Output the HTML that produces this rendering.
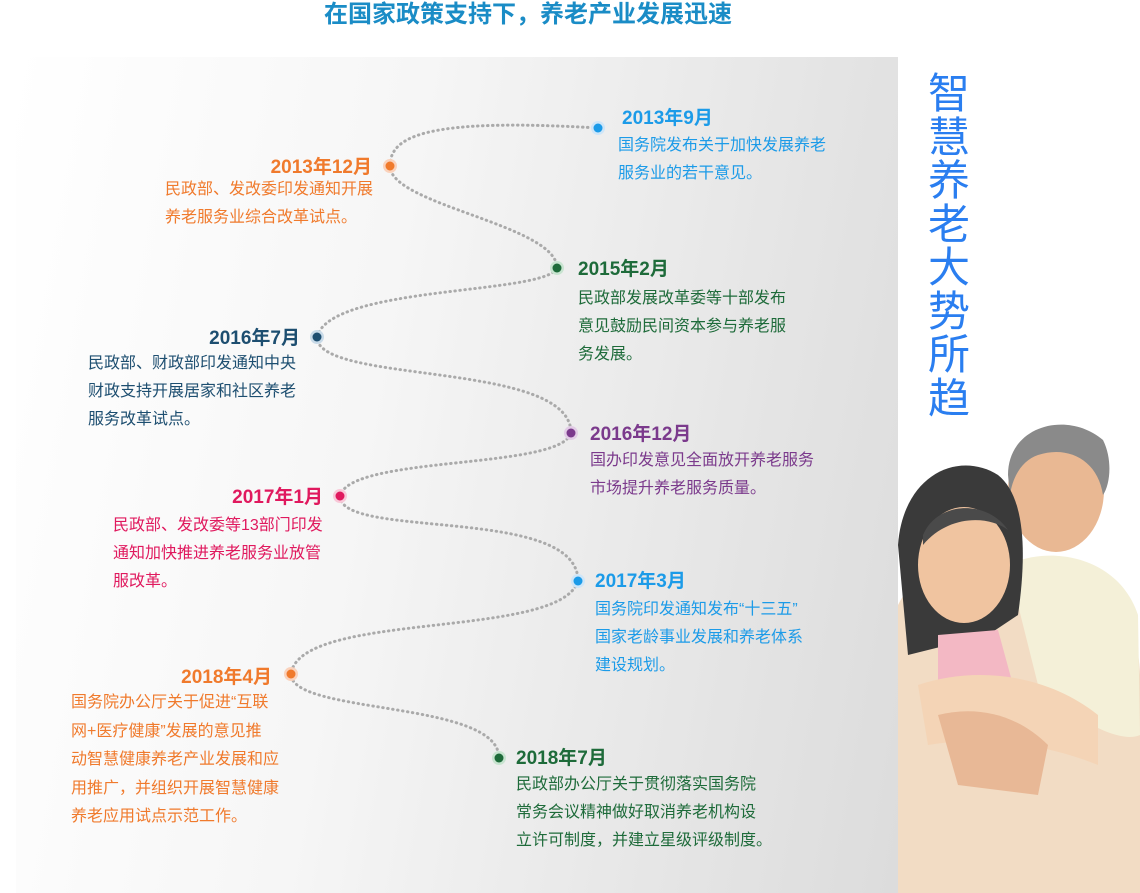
<!DOCTYPE html>
<html><head><meta charset="utf-8">
<style>
body{margin:0;width:1140px;height:893px;overflow:hidden;background:#fff;position:relative;font-family:"Liberation Sans","Noto Sans CJK SC",sans-serif;}
.a{position:absolute;white-space:nowrap}
.d{font-size:19px;font-weight:bold;line-height:22px}
.b{font-size:16px;line-height:28px}
.r{text-align:right}
</style></head><body>
<div class="a" style="left:0;width:1056px;text-align:center;top:0px;font-size:24px;line-height:30px;font-weight:bold;color:#1a8cc6;">在国家政策支持下，养老产业发展迅速</div>
<div class="a" style="left:16px;top:57px;width:882px;height:836px;background:linear-gradient(100deg,#ffffff 0%,#f6f6f6 40%,#e4e4e4 80%,#dcdcdc 100%);"></div>
<svg class="a" style="left:0;top:0" width="900" height="893">
<path d="M598,128 C430,118 390,135 390,166 C390,205 557,225 557,268 C545,295 330,285 317,337 C317,385 571,360 571,433 C560,470 350,455 340,496 C340,540 578,505 578,581 C560,640 300,610 291,674 C291,715 499,700 499,758" fill="none" stroke="#aaa" stroke-width="3" stroke-dasharray="0.5 4.5" stroke-linecap="round"/>
<g>
<circle cx="598" cy="128" r="7" fill="#cfe6f8"/><circle cx="598" cy="128" r="4.5" fill="#1c9be8"/>
<circle cx="390" cy="166" r="7" fill="#fad2bc"/><circle cx="390" cy="166" r="4.5" fill="#f07a2c"/>
<circle cx="557" cy="268" r="7" fill="#c8e4d0"/><circle cx="557" cy="268" r="4.5" fill="#1e6b3a"/>
<circle cx="317" cy="337" r="7" fill="#c8dae8"/><circle cx="317" cy="337" r="4.5" fill="#1d4e70"/>
<circle cx="571" cy="433" r="7" fill="#e2cce6"/><circle cx="571" cy="433" r="4.5" fill="#7b3a8c"/>
<circle cx="340" cy="496" r="7" fill="#f8c8d8"/><circle cx="340" cy="496" r="4.5" fill="#e0195e"/>
<circle cx="578" cy="581" r="7" fill="#cfe6f8"/><circle cx="578" cy="581" r="4.5" fill="#1c9be8"/>
<circle cx="291" cy="674" r="7" fill="#fad2bc"/><circle cx="291" cy="674" r="4.5" fill="#f07a2c"/>
<circle cx="499" cy="758" r="7" fill="#c8e4d0"/><circle cx="499" cy="758" r="4.5" fill="#1e6b3a"/>
</g></svg>

<div class="a d" style="left:622px;top:108px;color:#1c9be8">2013年9月</div>
<div class="a b" style="left:618px;top:132px;color:#1c9be8">国务院发布关于加快发展养老<br>服务业的若干意见。</div>

<div class="a d r" style="right:768px;top:157px;color:#f07a2c">2013年12月</div>
<div class="a b" style="left:165px;top:176px;color:#f07a2c">民政部、发改委印发通知开展<br>养老服务业综合改革试点。</div>

<div class="a d" style="left:578px;top:259px;color:#1e6b3a">2015年2月</div>
<div class="a b" style="left:578px;top:285px;color:#1e6b3a">民政部发展改革委等十部发布<br>意见鼓励民间资本参与养老服<br>务发展。</div>

<div class="a d r" style="right:840px;top:328px;color:#1d4e70">2016年7月</div>
<div class="a b" style="left:88px;top:350px;color:#1d4e70">民政部、财政部印发通知中央<br>财政支持开展居家和社区养老<br>服务改革试点。</div>

<div class="a d" style="left:590px;top:424px;color:#7b3a8c">2016年12月</div>
<div class="a b" style="left:590px;top:447px;color:#7b3a8c">国办印发意见全面放开养老服务<br>市场提升养老服务质量。</div>

<div class="a d r" style="right:817px;top:487px;color:#e0195e">2017年1月</div>
<div class="a b" style="left:113px;top:512px;color:#e0195e">民政部、发改委等13部门印发<br>通知加快推进养老服务业放管<br>服改革。</div>

<div class="a d" style="left:595px;top:571px;color:#1c9be8">2017年3月</div>
<div class="a b" style="left:595px;top:596px;color:#1c9be8">国务院印发通知发布“十三五”<br>国家老龄事业发展和养老体系<br>建设规划。</div>

<div class="a d r" style="right:868px;top:667px;color:#f07a2c">2018年4月</div>
<div class="a b" style="left:71px;top:689px;color:#f07a2c;line-height:28.5px">国务院办公厅关于促进“互联<br>网+医疗健康”发展的意见推<br>动智慧健康养老产业发展和应<br>用推广，并组织开展智慧健康<br>养老应用试点示范工作。</div>

<div class="a d" style="left:516px;top:748px;color:#1e6b3a">2018年7月</div>
<div class="a b" style="left:516px;top:771px;color:#1e6b3a">民政部办公厅关于贯彻落实国务院<br>常务会议精神做好取消养老机构设<br>立许可制度，并建立星级评级制度。</div>

<div class="a" style="left:926px;top:72px;width:46px;font-size:42px;line-height:43.5px;color:#2a7ef0;white-space:normal;text-align:center">智慧养老大势所趋</div>

<svg class="a" style="left:898px;top:415px" width="242" height="478">
<path d="M0,190 C20,150 60,150 110,170 L170,160 C210,170 240,200 242,260 L242,478 L0,478 Z" fill="#f2dcc4"/>
<path d="M110,150 C150,130 220,140 240,200 L242,320 C220,330 170,300 140,270 Z" fill="#f4f0d8"/>
<ellipse cx="158" cy="75" rx="48" ry="62" fill="#e9b893"/>
<path d="M110,60 C110,10 170,-5 205,25 C215,45 212,70 205,80 C200,45 170,30 140,40 C125,45 115,60 112,80 Z" fill="#8a8a8a"/>
<path d="M0,130 C5,60 60,35 100,60 C125,80 130,130 120,200 L90,220 L10,240 Z" fill="#3a3a3a"/>
<ellipse cx="66" cy="150" rx="46" ry="58" fill="#f0c4a0"/>
<path d="M25,120 C40,85 90,85 110,115 C90,100 50,100 25,130 Z" fill="#4a4a4a"/>
<path d="M40,220 L100,215 L115,270 L40,275 Z" fill="#f3b8c4"/>
<path d="M20,270 C80,250 150,260 200,300 L200,350 C150,330 90,320 30,330 Z" fill="#f4d4b6"/>
<path d="M40,300 C80,290 120,300 150,330 L140,380 L60,370 Z" fill="#e8b896"/>
</svg>
</body></html>
